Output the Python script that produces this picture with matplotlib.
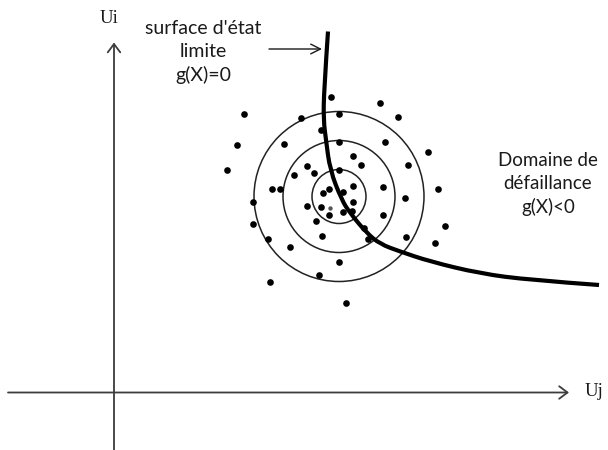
import matplotlib
matplotlib.use("Agg")
import matplotlib.pyplot as plt
from matplotlib.patches import Circle, FancyArrowPatch, PathPatch
from matplotlib.path import Path

# Sample points in standard normal space (Uj, Ui)
uj_pts = [217, 266, 130, 187, 225, 284, 207, 123, 170, 225, 271, 314, 113, 239,
          247, 294, 193, 200, 180, 225, 158, 166, 215, 209, 229, 239, 269, 324,
          139, 291, 193, 207, 239, 229, 238, 215, 269, 202, 139, 250, 331, 154,
          208, 254, 292, 321, 176, 225, 205, 156, 232]
ui_pts = [296, 289.5, 278.5, 274.5, 278.5, 276, 263, 248, 249, 250.5, 250.5, 240.5,
          222.5, 236.5, 228, 228, 226.5, 220, 218, 222.5, 204, 204, 204, 200, 200.5,
          207, 205.5, 204, 190.5, 194.5, 187, 186, 190.5, 180.5, 182, 177.5, 177.5,
          172, 169, 165, 166.5, 154, 156.5, 154, 155.5, 149.5, 145.5, 131, 117.5,
          110.5, 89.5]
# Design point at the centre of the cloud
centre_uj = [216]
centre_ui = [185]

# Iso-probability circles
circle_centre = (225, 196)
circle_radii = [27, 56, 85]

# Limit-state surface g(X) = 0
curve_uj = [214, 210, 209.5, 212, 216, 227.7, 236, 252.7, 266, 286, 316, 366, 416, 485]
curve_ui = [361, 302.5, 272.5, 252.5, 222.5, 192.5, 179.5, 159.5, 148.5, 141, 131, 119, 112.5, 107.5]

fig = plt.figure(figsize=(6.08, 4.5), dpi=100)
ax = fig.add_axes([0, 0, 1, 1])
ax.set_xlim(-114, 494)
ax.set_ylim(-57.5, 392.5)
ax.axis("off")

axis_col = "#3c3c3c"
# Horizontal axis Uj
ax.add_patch(FancyArrowPatch((-106, 0), (455, 0), arrowstyle="->,head_length=0.6,head_width=0.45",
                             mutation_scale=10, color=axis_col, lw=1.3, shrinkA=0, shrinkB=0))
# Vertical axis Ui
ax.add_patch(FancyArrowPatch((0, -60), (0, 350), arrowstyle="->,head_length=0.6,head_width=0.45",
                             mutation_scale=10, color=axis_col, lw=1.3, shrinkA=0, shrinkB=0))

ax.text(480, 1.5, "Uj", fontsize=13.5, family="Liberation Serif", ha="center", va="center", color="#1a1a1a")
ax.text(-5, 374, "Ui", fontsize=13.5, family="Liberation Serif", ha="center", va="center", color="#1a1a1a")

for r in circle_radii:
    ax.add_patch(Circle(circle_centre, r, fill=False, ec="#222222", lw=1.1))

ax.scatter(uj_pts, ui_pts, s=23, color="black", zorder=3, linewidths=0)
ax.scatter(centre_uj, centre_ui, s=10, color="#555555", zorder=3, linewidths=0)

# Smooth limit-state curve (quadratic Bezier through the vertex midpoints)
pts = list(zip(curve_uj, curve_ui))
verts = [pts[0]]
codes = [Path.MOVETO]
for i in range(1, len(pts) - 1):
    mid = ((pts[i][0] + pts[i + 1][0]) / 2, (pts[i][1] + pts[i + 1][1]) / 2)
    if i == len(pts) - 2:
        mid = pts[-1]
    verts += [pts[i], mid]
    codes += [Path.CURVE3, Path.CURVE3]
ax.add_patch(PathPatch(Path(verts, codes), fill=False, ec="black", lw=3.0, capstyle="butt", zorder=4))

txt_font = ["Lato", "DejaVu Sans"]
ax.text(89, 340.5, "surface d'état\nlimite\ng(X)=0", fontsize=14, family=txt_font,
        ha="center", va="center", multialignment="center", linespacing=1.4, color="#1a1a1a")
ax.add_patch(FancyArrowPatch((155, 343.5), (208, 343.5), arrowstyle="->,head_length=0.7,head_width=0.35",
                             mutation_scale=10, color="#1a1a1a", lw=1.0, shrinkA=0, shrinkB=0))

ax.text(434, 208.5, "Domaine de\ndéfaillance\ng(X)<0", fontsize=13.5, family=txt_font,
        ha="center", va="center", multialignment="center", linespacing=1.4, color="#1a1a1a")

fig.savefig("out.png", dpi=100, facecolor="white")
